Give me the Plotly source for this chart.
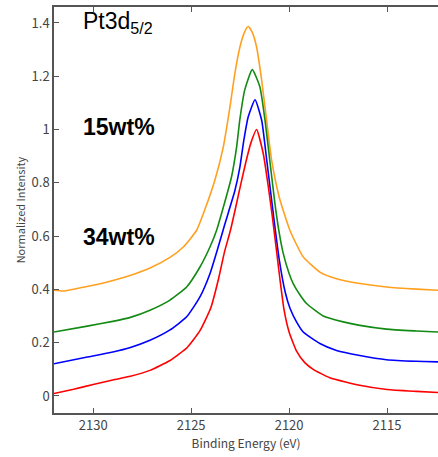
import plotly.graph_objects as go

# Binding energy (eV) and normalized intensity
red_x = [2132.0, 2131.0, 2130.0, 2129.0, 2128.1, 2127.1, 2126.1, 2125.2, 2124.55, 2124.0, 2123.6, 2123.3, 2123.0, 2122.75, 2122.45, 2122.2, 2121.95, 2121.66, 2121.32, 2121.07, 2120.85, 2120.65, 2120.47, 2120.25, 2120.0, 2119.62, 2119.2, 2118.77, 2117.92, 2116.4, 2115.0, 2113.5, 2112.4]
red_y = [0.009, 0.025, 0.043, 0.060, 0.074, 0.096, 0.132, 0.182, 0.245, 0.330, 0.440, 0.540, 0.620, 0.700, 0.800, 0.880, 0.950, 1.000, 0.910, 0.790, 0.670, 0.550, 0.440, 0.320, 0.240, 0.168, 0.125, 0.100, 0.068, 0.040, 0.024, 0.017, 0.013]

blue_x = [2132.0, 2130.3, 2129.0, 2128.1, 2127.1, 2126.1, 2125.23, 2124.55, 2124.04, 2123.62, 2123.3, 2122.77, 2122.51, 2122.31, 2122.09, 2121.74, 2121.4, 2121.15, 2120.95, 2120.75, 2120.5, 2120.2, 2119.96, 2119.6, 2119.28, 2118.43, 2117.58, 2116.39, 2115.03, 2113.5, 2112.4]
blue_y = [0.121, 0.146, 0.165, 0.182, 0.209, 0.247, 0.297, 0.372, 0.459, 0.559, 0.640, 0.770, 0.860, 0.960, 1.047, 1.112, 1.035, 0.890, 0.770, 0.650, 0.510, 0.390, 0.330, 0.275, 0.240, 0.197, 0.171, 0.152, 0.136, 0.130, 0.128]

green_x = [2132.0, 2130.3, 2129.0, 2128.1, 2127.1, 2126.1, 2125.23, 2124.55, 2124.04, 2123.7, 2123.35, 2122.94, 2122.68, 2122.51, 2122.26, 2121.88, 2121.49, 2121.23, 2120.98, 2120.72, 2120.5, 2120.3, 2120.0, 2119.79, 2119.45, 2119.11, 2118.26, 2117.24, 2116.39, 2115.03, 2113.5, 2112.4]
green_y = [0.240, 0.262, 0.280, 0.295, 0.322, 0.359, 0.409, 0.484, 0.559, 0.622, 0.710, 0.822, 0.934, 1.040, 1.150, 1.225, 1.160, 1.035, 0.880, 0.720, 0.610, 0.535, 0.460, 0.422, 0.380, 0.347, 0.300, 0.278, 0.265, 0.251, 0.244, 0.240]

orange_x = [2132.0, 2131.5, 2130.5, 2129.28, 2128.12, 2127.1, 2126.08, 2125.4, 2124.72, 2124.3, 2123.79, 2123.36, 2123.02, 2122.77, 2122.51, 2122.28, 2122.09, 2121.88, 2121.66, 2121.4, 2121.15, 2120.89, 2120.5, 2119.96, 2119.28, 2118.43, 2117.58, 2116.39, 2115.03, 2113.5, 2112.4]
orange_y = [0.397, 0.394, 0.408, 0.428, 0.452, 0.480, 0.520, 0.559, 0.622, 0.700, 0.810, 0.934, 1.084, 1.210, 1.310, 1.365, 1.387, 1.365, 1.310, 1.185, 1.035, 0.884, 0.745, 0.622, 0.522, 0.465, 0.440, 0.422, 0.409, 0.401, 0.397]

x_ticks = [2130, 2125, 2120, 2115]
y_ticks = [0, 0.2, 0.4, 0.6, 0.8, 1.0, 1.2, 1.4]
y_tick_text = ["0", "0.2", "0.4", "0.6", "0.8", "1", "1.2", "1.4"]

series = [
    (orange_x, orange_y, "#FFA020"),
    (green_x, green_y, "#138A13"),
    (blue_x, blue_y, "#0000FF"),
    (red_x, red_y, "#FF0000"),
]

fig = go.Figure()
for xs, ys, col in series:
    fig.add_trace(go.Scatter(x=xs, y=ys, mode="lines",
                             line=dict(color=col, width=1.6, shape="spline", smoothing=0.5),
                             showlegend=False, hoverinfo="skip"))

tick_font = dict(family="Noto Sans CJK JP, Liberation Sans, sans-serif", size=13, color="#444444")
fig.update_layout(
    width=438, height=457,
    margin=dict(l=54, r=0, t=7, b=44),
    paper_bgcolor="white", plot_bgcolor="white",
    xaxis=dict(range=[2132, 2112.4], tickvals=x_ticks, ticks="inside", ticklen=5,
               tickcolor="#555555", showline=True, linecolor="#555555", linewidth=1.5,
               mirror="ticks", showgrid=False, zeroline=False, tickfont=tick_font,
               title=dict(text="Binding Energy (eV)", standoff=2,
                          font=dict(family="Noto Sans CJK JP, Liberation Sans, sans-serif", size=12, color="#444444"))),
    yaxis=dict(range=[-0.064, 1.46], tickvals=y_ticks, ticktext=y_tick_text, ticks="inside", ticklen=5,
               tickcolor="#555555", showline=True, linecolor="#555555", linewidth=1.5,
               showgrid=False, zeroline=False, tickfont=tick_font,
               title=dict(text="Normalized Intensity", standoff=4,
                          font=dict(family="Noto Sans CJK JP, Liberation Sans, sans-serif", size=11, color="#444444"))),
)

ann_font = dict(family="Liberation Sans, Arial, sans-serif", size=23, color="black")
fig.add_annotation(x=2130.6, y=1.40, xref="x", yref="y", xanchor="left", yanchor="middle",
                   text="Pt3d<sub>5/2</sub>", showarrow=False, font=ann_font)
fig.add_annotation(x=2130.6, y=1.008, xref="x", yref="y", xanchor="left", yanchor="middle",
                   text="<b>15wt%</b>", showarrow=False, font=ann_font)
fig.add_annotation(x=2130.6, y=0.595, xref="x", yref="y", xanchor="left", yanchor="middle",
                   text="<b>34wt%</b>", showarrow=False, font=ann_font)

fig.write_html("out.html", config={"displayModeBar": False},
               post_script="document.body.style.margin='0';document.body.style.padding='0';")
